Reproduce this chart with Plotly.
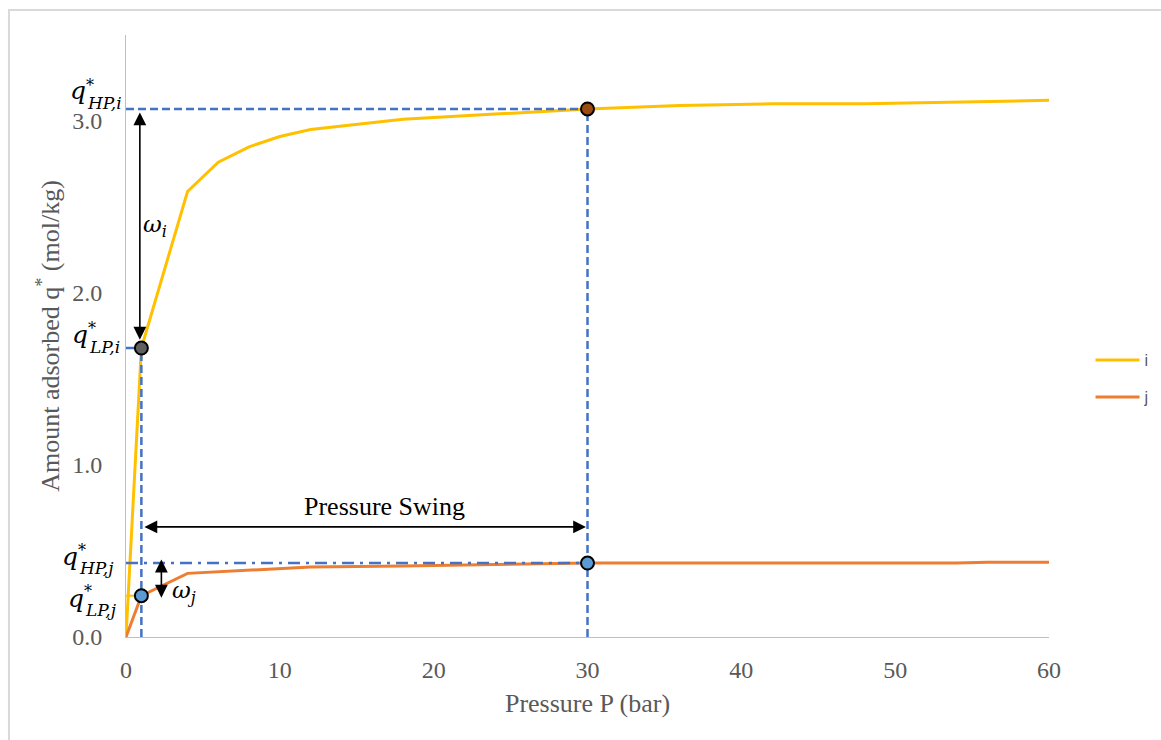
import plotly.graph_objects as go

# Adsorption isotherms: amount adsorbed q* (mol/kg) versus pressure P (bar)
pressure = [0, 1, 4, 6, 8, 10, 12, 18, 24, 30, 36, 42, 48, 54, 56, 60]
q_i = [0, 1.68, 2.59, 2.76, 2.85, 2.91, 2.95, 3.01, 3.04, 3.07, 3.09, 3.10, 3.10, 3.11, 3.11, 3.12]
q_j = [0, 0.24, 0.37, 0.38, 0.39, 0.40, 0.407, 0.413, 0.42, 0.43, 0.43, 0.43, 0.43, 0.43, 0.435, 0.435]

x_ticks = [0, 10, 20, 30, 40, 50, 60]
y_ticks = [0, 1, 2, 3]
y_tick_text = ["0.0", "1.0", "2.0", "3.0"]

p_low = 1
p_high = 30
q_lp_i = q_i[pressure.index(p_low)]
q_hp_i = q_i[pressure.index(p_high)]
q_lp_j = q_j[pressure.index(p_low)]
q_hp_j = q_j[pressure.index(p_high)]

YELLOW = "#FFC000"
ORANGE = "#ED7D31"
GUIDE = "#4472C4"
GREY_TXT = "#595959"
SERIF = "'Times New Roman', 'Liberation Serif', serif"
MATH = "'DejaVu Serif', serif"

fig = go.Figure()

# Isotherm curves
fig.add_trace(go.Scatter(x=pressure, y=q_i, mode="lines", name="i", legendgroup="i",
                         line=dict(color=YELLOW, width=3), hoverinfo="x+y"))
fig.add_trace(go.Scatter(x=pressure, y=q_j, mode="lines", name="j", legendgroup="j",
                         line=dict(color=ORANGE, width=3), hoverinfo="x+y"))


def guide(xs, ys, color=GUIDE, dash="8px,4px", width=2.5):
    fig.add_trace(go.Scatter(x=xs, y=ys, mode="lines", showlegend=False, hoverinfo="skip",
                             line=dict(color=color, width=width, dash=dash)))


# Guide lines from the axes to the operating points
guide([0, p_high], [q_hp_i, q_hp_i])
guide([p_high, p_high], [0, q_hp_i])
guide([0, p_low], [q_lp_i, q_lp_i])
guide([p_low, p_low], [0, q_lp_i])
guide([0, p_high], [q_hp_j, q_hp_j], dash="12px,6px,3px,6px")
guide([0, p_low], [q_lp_j, q_lp_j], color=YELLOW, dash="solid", width=2)

# Operating-point markers
fig.add_trace(go.Scatter(
    x=[p_high, p_low, p_high, p_low],
    y=[q_hp_i, q_lp_i, q_hp_j, q_lp_j],
    mode="markers", showlegend=False, hoverinfo="x+y",
    marker=dict(size=13, color=["#9C4A14", "#5F5F5F", "#5B9BD5", "#5B9BD5"],
                line=dict(color="black", width=2))))

annotations = []


def arrow(x0, y0, x1, y1):
    annotations.append(dict(x=x1, y=y1, ax=x0, ay=y0, xref="x", yref="y", axref="x", ayref="y",
                            text="", showarrow=True, arrowhead=2, arrowside="end+start",
                            arrowsize=1.6, arrowwidth=1.6, arrowcolor="black"))


# Working capacities and pressure swing
arrow(0.9, q_lp_i + 0.04, 0.9, q_hp_i - 0.02)
arrow(2.3, q_lp_j - 0.02, 2.3, q_hp_j + 0.02)
arrow(p_low + 0.1, 0.64, p_high - 0.1, 0.64)

annotations.append(dict(x=1.9, y=2.39, xref="x", yref="y", showarrow=False,
                        text="<i>ω</i><sub><i>i</i></sub>",
                        font=dict(family=MATH, size=23, color="black")))
annotations.append(dict(x=3.8, y=0.26, xref="x", yref="y", showarrow=False,
                        text="<i>ω</i><sub><i>j</i></sub>",
                        font=dict(family=MATH, size=23, color="black")))
annotations.append(dict(x=16.8, y=0.756, xref="x", yref="y", showarrow=False,
                        text="Pressure Swing",
                        font=dict(family=SERIF, size=26, color="black")))


def q_label(value, sub, q_dx, q_dy, s_dy, star_dy):
    # q with a star superscript and a stacked subscript, placed left of the y axis
    common = dict(x=0, y=value, xref="x", yref="y", showarrow=False)
    annotations.append(dict(common, text="<i>q</i>", xanchor="right", yanchor="middle",
                            xshift=q_dx, yshift=q_dy,
                            font=dict(family=MATH, size=25, color="black")))
    annotations.append(dict(common, text="*", xanchor="left", yanchor="middle",
                            xshift=q_dx - 4, yshift=star_dy,
                            font=dict(family=MATH, size=16, color="black")))
    annotations.append(dict(common, text="<i>" + sub + "</i>", xanchor="left", yanchor="middle",
                            xshift=q_dx - 3, yshift=s_dy,
                            font=dict(family=MATH, size=17, color="black")))


q_label(q_hp_i, "HP,i", -38, 18, 6, 23)
q_label(q_lp_i, "LP,i", -36, 14, 1, 20)
q_label(q_hp_j, "HP,j", -46, 7, -5, 13)
q_label(q_lp_j, "LP,j", -40, -3, -14, 4)

# Chart-area frame
shapes = [dict(type="rect", xref="paper", yref="paper",
               x0=-0.1268, x1=1.14, y0=-0.2, y1=1.0415,
               line=dict(color="#D9D9D9", width=2), fillcolor="rgba(0,0,0,0)", layer="below")]

fig.update_layout(
    width=1161, height=740,
    margin=dict(l=126, r=112, t=35, b=103, autoexpand=False),
    paper_bgcolor="white", plot_bgcolor="white",
    font=dict(family=SERIF, color=GREY_TXT),
    annotations=annotations,
    shapes=shapes,
    legend=dict(x=1.045, y=0.488, xanchor="left", yanchor="top",
                font=dict(family="'Liberation Sans', sans-serif", size=16, color=GREY_TXT),
                tracegroupgap=13, itemwidth=44, bgcolor="rgba(0,0,0,0)"),
    xaxis=dict(range=[0, 60], tickvals=x_ticks, showgrid=False, zeroline=False,
               showline=True, linecolor="#BFBFBF", linewidth=1, ticks="",
               ticklabelstandoff=11,
               tickfont=dict(family=SERIF, size=24, color=GREY_TXT),
               title=dict(text="Pressure P (bar)", standoff=12,
                          font=dict(family=SERIF, size=26, color=GREY_TXT))),
    yaxis=dict(range=[0, 3.5], tickvals=y_ticks, ticktext=y_tick_text, showgrid=False,
               zeroline=False, showline=True, linecolor="#BFBFBF", linewidth=1, ticks="",
               ticklabelstandoff=18,
               tickfont=dict(family=SERIF, size=24, color=GREY_TXT),
               title=dict(text="Amount adsorbed q<sup>*</sup> (mol/kg)", standoff=5,
                          font=dict(family=SERIF, size=26, color=GREY_TXT))),
)

fig.write_html("out.html")
